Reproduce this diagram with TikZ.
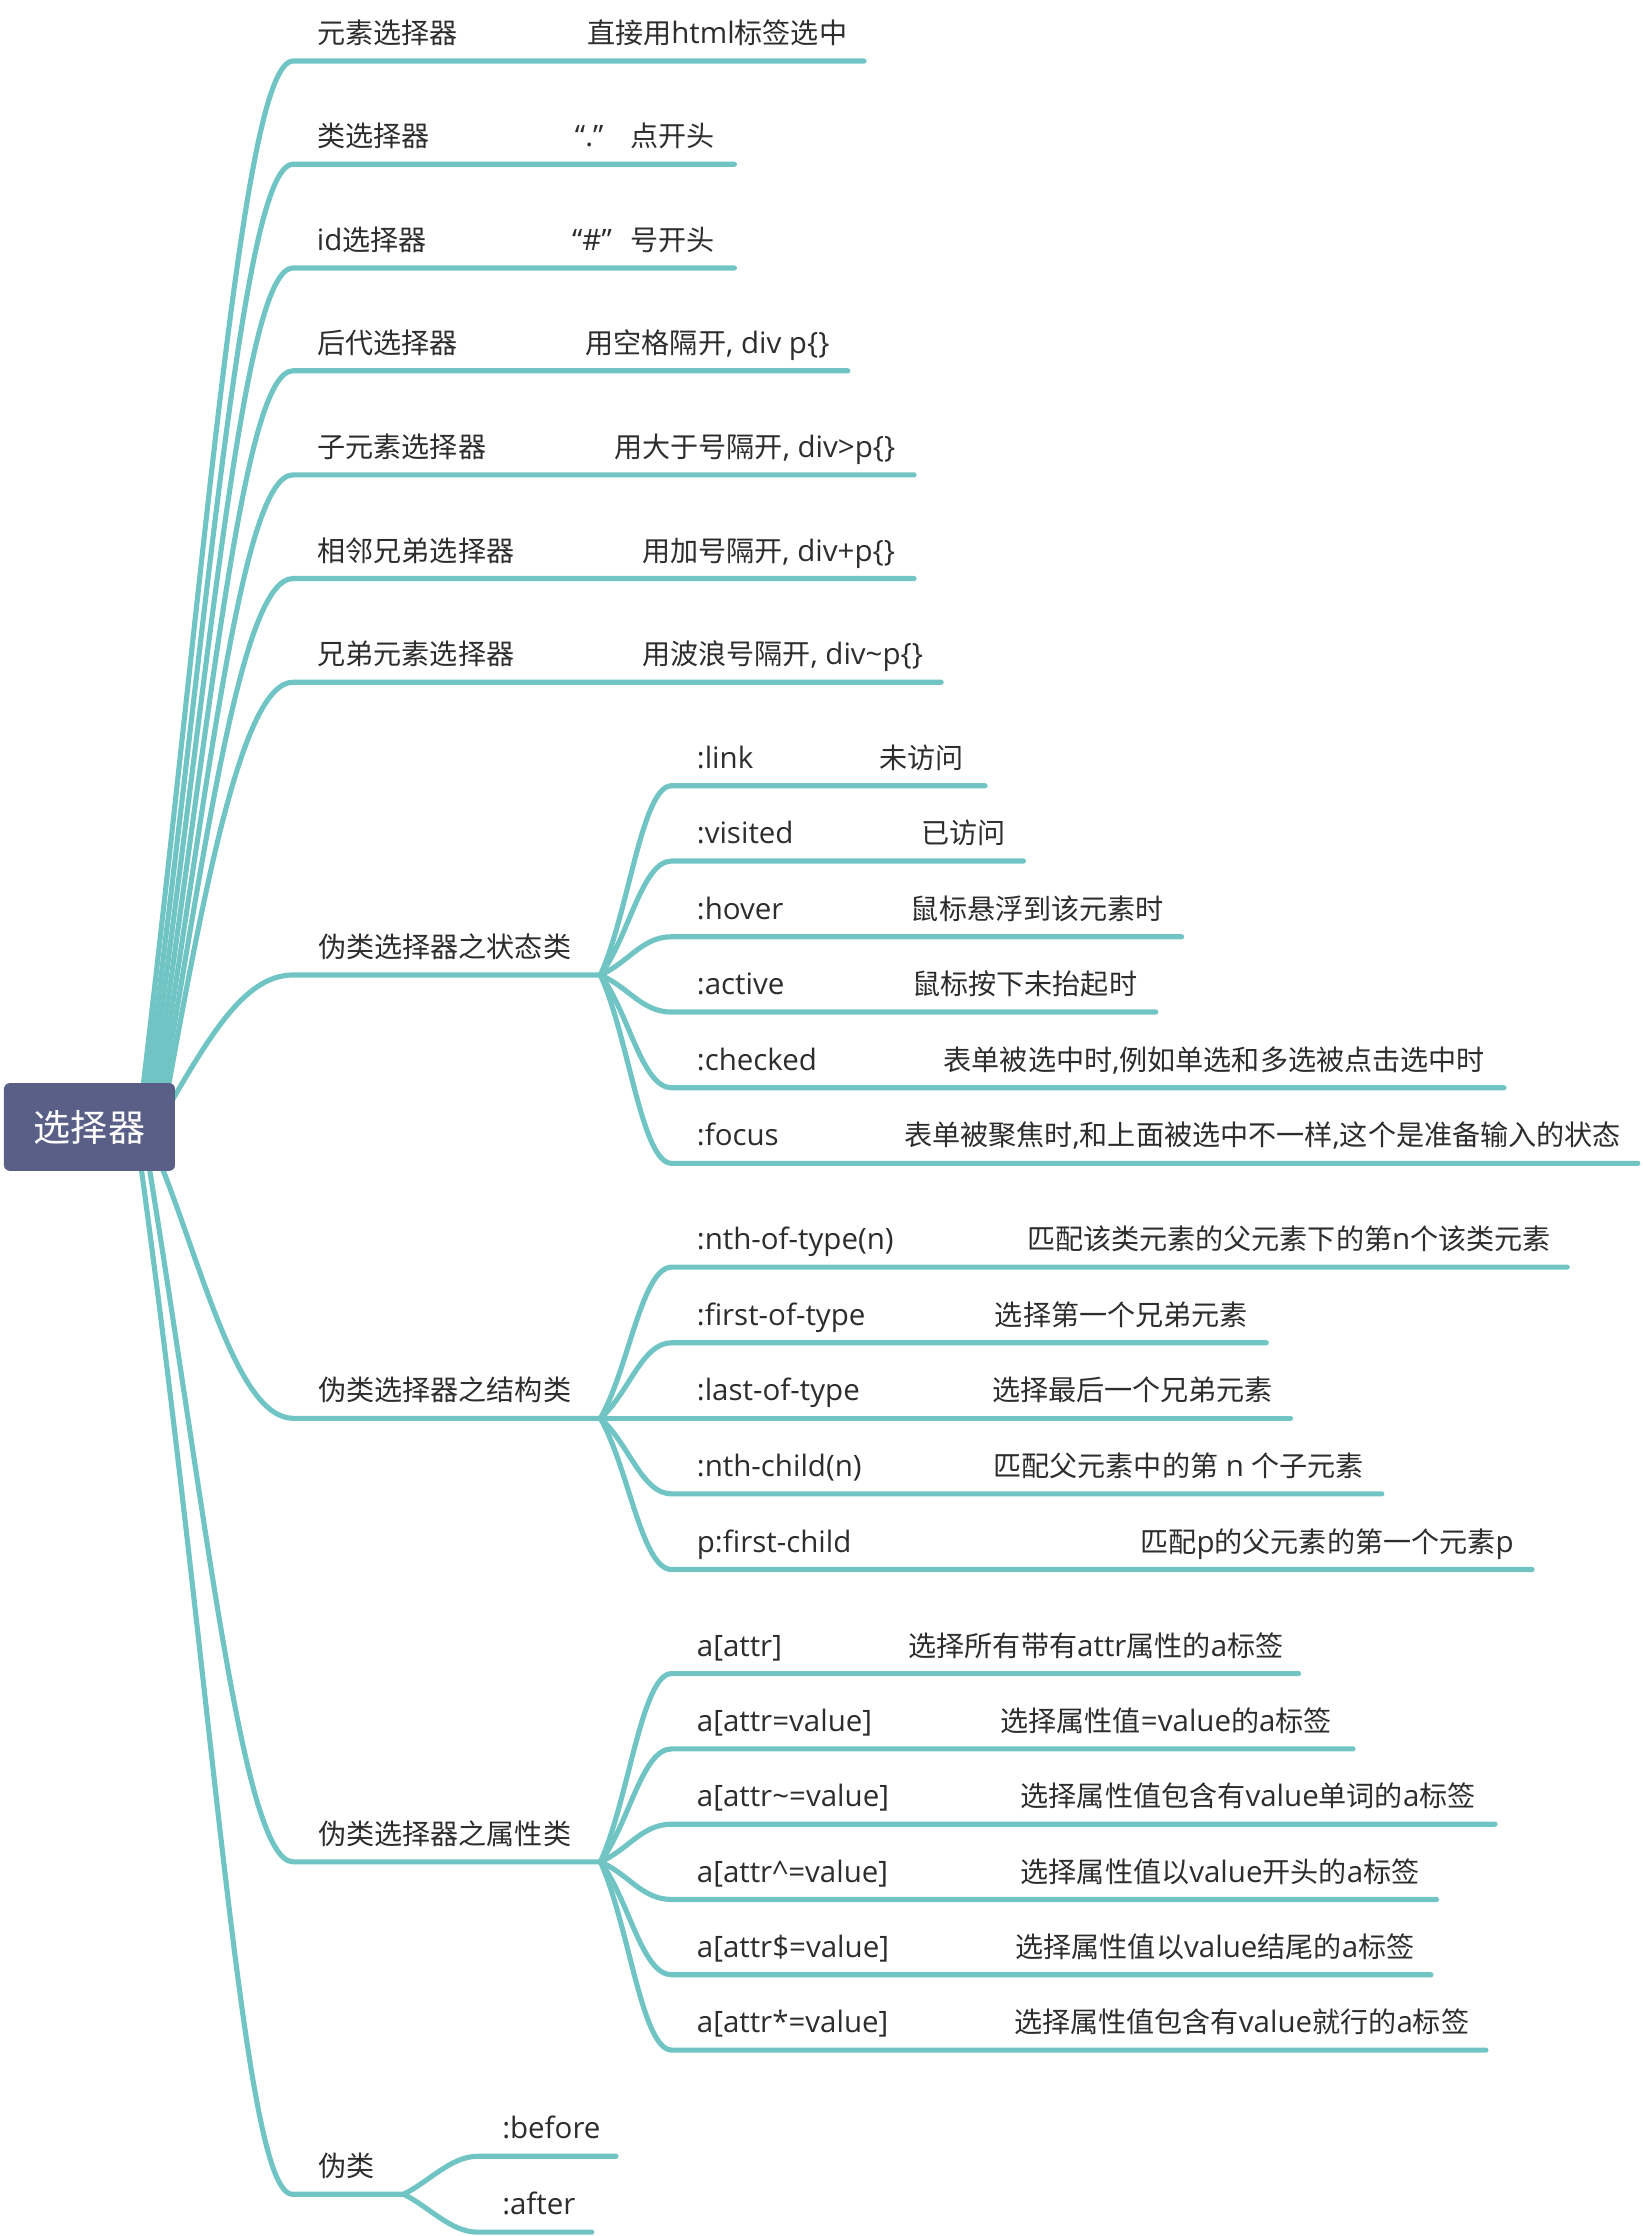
\documentclass[tikz,border=0pt]{standalone}
\usepackage{fontspec}
\setmainfont{Open Sans}[Scale=1.05]
\newfontfamily\latf{Open Sans}[Scale=1.05]
\newfontfamily\cjkf{Noto Sans CJK SC}
\XeTeXinterchartokenstate=1
\newXeTeXintercharclass\cjkcls
\newcount\cjkcnt
\cjkcnt="4E00
\loop\ifnum\cjkcnt<"A000
  \XeTeXcharclass\cjkcnt=\cjkcls
  \advance\cjkcnt by 1
\repeat
\cjkcnt="FF00
\loop\ifnum\cjkcnt<"FFF0
  \XeTeXcharclass\cjkcnt=\cjkcls
  \advance\cjkcnt by 1
\repeat
\XeTeXinterchartoks 0 \cjkcls = {\cjkf}
\XeTeXinterchartoks 4095 \cjkcls = {\cjkf}
\XeTeXinterchartoks \cjkcls 0 = {\latf}
\XeTeXinterchartoks \cjkcls 4095 = {\latf}
\definecolor{teal}{RGB}{112,196,196}
\definecolor{rootcol}{RGB}{89,95,134}
\definecolor{txtcol}{RGB}{45,45,45}
\tikzset{
  br/.style={draw=teal, line width=3.6pt, line cap=round, line join=round},
  lab/.style={anchor=base west, inner sep=0pt, text=txtcol, font=\fontsize{19.7}{23.6}\selectfont},
  rootbox/.style={fill=rootcol, rounded corners=4pt, minimum width=119.9pt, minimum height=61.5pt, inner sep=0pt, text=white, font=\fontsize{26}{30}\selectfont}
}
\begin{document}
\begin{tikzpicture}[x=1pt,y=-1pt]
\useasboundingbox (0,0) rectangle (1151.5,1568);
% ---------- level 1 coordinates
\coordinate (s1) at (97,790);    \coordinate (c1) at (205.5,42.8);   \coordinate (e1) at (605.9,42.8);
\coordinate (s2) at (99.7,790);  \coordinate (c2) at (205.5,115.2);  \coordinate (e2) at (515,115.2);
\coordinate (s3) at (102.3,790); \coordinate (c3) at (205.5,187.9);  \coordinate (e3) at (515,187.9);
\coordinate (s4) at (105,790);   \coordinate (c4) at (205.5,260);    \coordinate (e4) at (594.6,260);
\coordinate (s5) at (107.7,790); \coordinate (c5) at (205.5,333);    \coordinate (e5) at (641,333);
\coordinate (s6) at (110.3,790); \coordinate (c6) at (205.5,405.7);  \coordinate (e6) at (641,405.7);
\coordinate (s7) at (113,790);   \coordinate (c7) at (205.5,478.4);  \coordinate (e7) at (660,478.4);
\coordinate (s8) at (110,790);   \coordinate (c8) at (205.6,683.7);  \coordinate (f8) at (421,683.7);
\coordinate (s9) at (108,805);   \coordinate (c9) at (205.7,994.6);  \coordinate (f9) at (421,994.6);
\coordinate (s10) at (100,790);  \coordinate (c10) at (205.6,1305.6); \coordinate (f10) at (421,1305.6);
\coordinate (s11) at (95,790);   \coordinate (c11) at (205,1538.7);  \coordinate (f11) at (283,1538.7);
% ---------- level 1 connectors
\draw[br] (s1) .. controls +(48,-400) and +(-35.5,0) .. (c1) -- (e1);
\draw[br] (s2) .. controls +(46.9,-361) and +(-35.5,0) .. (c2) -- (e2);
\draw[br] (s3) .. controls +(45.1,-322) and +(-35.5,0) .. (c3) -- (e3);
\draw[br] (s4) .. controls +(42.5,-283.6) and +(-35.5,0) .. (c4) -- (e4);
\draw[br] (s5) .. controls +(39.1,-244.5) and +(-35.5,0) .. (c5) -- (e5);
\draw[br] (s6) .. controls +(35,-205.6) and +(-35.5,0) .. (c6) -- (e6);
\draw[br] (s7) .. controls +(30,-166.7) and +(-35.5,0) .. (c7) -- (e7);
\draw[br] (s8) .. controls +(35,-60) and +(-35.6,0) .. (c8) -- (f8);
\draw[br] (s9) .. controls +(32,75) and +(-40.7,0) .. (c9) -- (f9);
\draw[br] (s10) .. controls +(45.5,276) and +(-35.6,0) .. (c10) -- (f10);
\draw[br] (s11) .. controls +(56,400) and +(-35,0) .. (c11) -- (f11);
% ---------- state class children
\coordinate (a1) at (471,551);   \coordinate (ae1) at (690.8,551);
\coordinate (a2) at (471,603.8); \coordinate (ae2) at (717.7,603.8);
\coordinate (a3) at (471,656.9); \coordinate (ae3) at (828.6,656.9);
\coordinate (a4) at (471,709.7); \coordinate (ae4) at (810.5,709.7);
\coordinate (a5) at (471,762.8); \coordinate (ae5) at (1054.7,762.8);
\coordinate (a6) at (471,815.8); \coordinate (ae6) at (1148.5,815.8);
\draw[br] (f8) .. controls +(20,-43.8) and +(-21,0) .. (a1) -- (ae1);
\draw[br] (f8) .. controls +(20,-26.4) and +(-21,0) .. (a2) -- (ae2);
\draw[br] (f8) .. controls +(20,-8.8) and +(-21,0) .. (a3) -- (ae3);
\draw[br] (f8) .. controls +(20,8.6) and +(-21,0) .. (a4) -- (ae4);
\draw[br] (f8) .. controls +(20,26.1) and +(-21,0) .. (a5) -- (ae5);
\draw[br] (f8) .. controls +(20,43.6) and +(-21,0) .. (a6) -- (ae6);
% ---------- structure class children
\coordinate (b1) at (471,888.6);  \coordinate (be1) at (1099,888.6);
\coordinate (b2) at (471,941.6);  \coordinate (be2) at (888,941.6);
\coordinate (b3) at (471,994.6);  \coordinate (be3) at (905,994.6);
\coordinate (b4) at (471,1047.6); \coordinate (be4) at (969,1047.6);
\coordinate (b5) at (471,1100.6); \coordinate (be5) at (1074.4,1100.6);
\draw[br] (f9) .. controls +(20,-35) and +(-21,0) .. (b1) -- (be1);
\draw[br] (f9) .. controls +(20,-17.5) and +(-21,0) .. (b2) -- (be2);
\draw[br] (f9) -- (b3) -- (be3);
\draw[br] (f9) .. controls +(20,17.5) and +(-21,0) .. (b4) -- (be4);
\draw[br] (f9) .. controls +(20,35) and +(-21,0) .. (b5) -- (be5);
% ---------- attribute class children
\coordinate (t1) at (471,1173.6); \coordinate (te1) at (910.6,1173.6);
\coordinate (t2) at (471,1226.4); \coordinate (te2) at (948.8,1226.4);
\coordinate (t3) at (471,1279.2); \coordinate (te3) at (1048.4,1279.2);
\coordinate (t4) at (471,1332);   \coordinate (te4) at (1007.4,1332);
\coordinate (t5) at (471,1384.8); \coordinate (te5) at (1003.5,1384.8);
\coordinate (t6) at (471,1437.6); \coordinate (te6) at (1042,1437.6);
\draw[br] (f10) .. controls +(20,-43.6) and +(-21,0) .. (t1) -- (te1);
\draw[br] (f10) .. controls +(20,-26.1) and +(-21,0) .. (t2) -- (te2);
\draw[br] (f10) .. controls +(20,-8.7) and +(-21,0) .. (t3) -- (te3);
\draw[br] (f10) .. controls +(20,8.7) and +(-21,0) .. (t4) -- (te4);
\draw[br] (f10) .. controls +(20,26.1) and +(-21,0) .. (t5) -- (te5);
\draw[br] (f10) .. controls +(20,43.6) and +(-21,0) .. (t6) -- (te6);
% ---------- pseudo children
\coordinate (p1) at (335,1512.1); \coordinate (pe1) at (432,1512.1);
\coordinate (p2) at (335,1565.3); \coordinate (pe2) at (415,1565.3);
\draw[br] (f11) .. controls +(18,-8.8) and +(-19,0) .. (p1) -- (pe1);
\draw[br] (f11) .. controls +(18,8.8) and +(-19,0) .. (p2) -- (pe2);
% ---------- root
\node[rootbox] (root) at (62.75,790.3) {选择器};
% ---------- level 1 labels
\node[lab] (l1) at (222.5,30.6) {元素选择器};
\node[lab] (d1) at (411.5,30.6) {直接用html标签选中};
\node[lab] (l2) at (222.5,103) {类选择器};
\node[lab] (d2) at (403,103) {\makebox[39pt][l]{“.”}点开头};
\node[lab] (l3) at (222,175.7) {id选择器};
\node[lab] (d3) at (401,175.7) {\makebox[41pt][l]{“\#”}号开头};
\node[lab] (l4) at (222.5,247.8) {后代选择器};
\node[lab] (d4) at (410.5,247.8) {用空格隔开, div p\{\}};
\node[lab] (l5) at (222.5,320.8) {子元素选择器};
\node[lab] (d5) at (430.5,320.8) {用大于号隔开, div>p\{\}};
\node[lab] (l6) at (222.5,393.5) {相邻兄弟选择器};
\node[lab] (d6) at (450,393.5) {用加号隔开, div+p\{\}};
\node[lab] (l7) at (222.5,466.2) {兄弟元素选择器};
\node[lab] (d7) at (450,466.2) {用波浪号隔开, div\textasciitilde p\{\}};
\node[lab] (l8) at (223,671.5) {伪类选择器之状态类};
\node[lab] (l9) at (223,982.4) {伪类选择器之结构类};
\node[lab] (l10) at (223,1293.4) {伪类选择器之属性类};
\node[lab] (l11) at (223,1526.5) {伪类};
% ---------- state labels
\node[lab] (al1) at (488.5,538.8) {:link};
\node[lab] (ad1) at (616.7,538.8) {未访问};
\node[lab] (al2) at (488.5,591.6) {:visited};
\node[lab] (ad2) at (646,591.6) {已访问};
\node[lab] (al3) at (488.5,644.7) {:hover};
\node[lab] (ad3) at (638.6,644.7) {鼠标悬浮到该元素时};
\node[lab] (al4) at (488.5,697.5) {:active};
\node[lab] (ad4) at (639.6,697.5) {鼠标按下未抬起时};
\node[lab] (al5) at (488.5,750.6) {:checked};
\node[lab] (ad5) at (661.6,750.6) {表单被选中时,例如单选和多选被点击选中时};
\node[lab] (al6) at (488.5,803.6) {:focus};
\node[lab] (ad6) at (633.8,803.6) {表单被聚焦时,和上面被选中不一样,这个是准备输入的状态};
% ---------- structure labels
\node[lab] (bl1) at (488.5,876.4) {:nth-of-type(n)};
\node[lab] (bd1) at (720,876.4) {匹配该类元素的父元素下的第n个该类元素};
\node[lab] (bl2) at (488.5,929.4) {:first-of-type};
\node[lab] (bd2) at (697.5,929.4) {选择第一个兄弟元素};
\node[lab] (bl3) at (488.5,982.4) {:last-of-type};
\node[lab] (bd3) at (695.5,982.4) {选择最后一个兄弟元素};
\node[lab] (bl4) at (488.5,1035.4) {:nth-child(n)};
\node[lab] (bd4) at (696.5,1035.4) {匹配父元素中的第 n 个子元素};
\node[lab] (bl5) at (488.5,1088.4) {p:first-child};
\node[lab] (bd5) at (799.5,1088.4) {匹配p的父元素的第一个元素p};
% ---------- attribute labels
\node[lab] (tl1) at (488.5,1161.4) {a[attr]};
\node[lab] (td1) at (637,1161.4) {选择所有带有attr属性的a标签};
\node[lab] (tl2) at (488.5,1214.2) {a[attr=value]};
\node[lab] (td2) at (701.4,1214.2) {选择属性值=value的a标签};
\node[lab] (tl3) at (488.5,1267) {a[attr\textasciitilde=value]};
\node[lab] (td3) at (715.6,1267) {选择属性值包含有value单词的a标签};
\node[lab] (tl4) at (488.5,1319.8) {a[attr\textasciicircum=value]};
\node[lab] (td4) at (715.6,1319.8) {选择属性值以value开头的a标签};
\node[lab] (tl5) at (488.5,1372.6) {a[attr\$=value]};
\node[lab] (td5) at (712,1372.6) {选择属性值以value结尾的a标签};
\node[lab] (tl6) at (488.5,1425.4) {a[attr*=value]};
\node[lab] (td6) at (711,1425.4) {选择属性值包含有value就行的a标签};
% ---------- pseudo labels
\node[lab] (pl1) at (352,1499.9) {:before};
\node[lab] (pl2) at (352,1553.1) {:after};
\end{tikzpicture}
\end{document}
